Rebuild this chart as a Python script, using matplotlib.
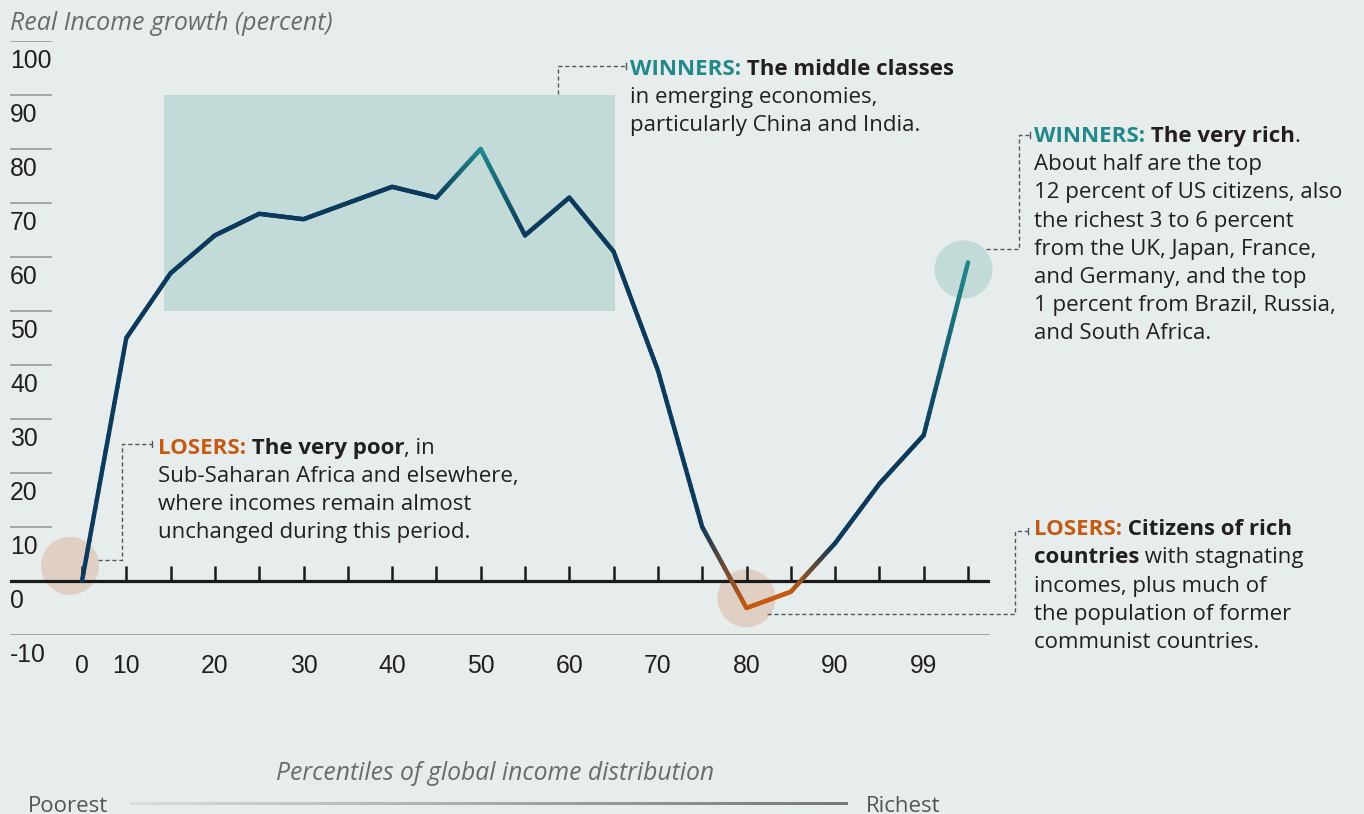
import matplotlib.pyplot as plt
import numpy as np
from matplotlib.collections import LineCollection
from matplotlib.colors import to_rgb, LinearSegmentedColormap
from matplotlib.lines import Line2D

# Data: real income growth by ventile of global income distribution
points = list(range(21))
growth = [0, 45, 57, 64, 68, 67, 70, 73, 71, 80, 64, 71, 61, 39, 10, -5, -2, 7, 18, 27, 59]
tone = ['navy', 'navy', 'navy', 'navy', 'navy', 'navy', 'navy', 'navy', 'navy', 'teal', 'navy',
        'navy', 'navy', 'navy', 'navy', 'orange', 'orange', 'navy', 'navy', 'navy', 'teal']
x_label_pos = [0, 1, 3, 5, 7, 9, 11, 13, 15, 17, 19]
x_labels = ['0', '10', '20', '30', '40', '50', '60', '70', '80', '90', '99']
y_ticks = [100, 90, 80, 70, 60, 50, 40, 30, 20, 10, 0, -10]

# highlighted groups
band_x = [1.85, 12.03]
band_y = [50, 90]
circle_x = [-0.27, 15, 19.9]
circle_y = [2.8, -3.2, 57.7]
circle_tone = ['orange', 'orange', 'teal']

BG = '#e7eded'
NAVY = '#0b3a5c'
TEAL = '#22888a'
ORANGE = '#c65a13'
DARK = '#231f20'
colors = {'navy': NAVY, 'teal': TEAL, 'orange': ORANGE}
soft = {'orange': '#dfd0c3', 'teal': '#c2dbd8'}

W, H = 1364, 814
fig = plt.figure(figsize=(W / 100, H / 100), dpi=100, facecolor=BG)
ax = fig.add_axes([10 / W, (H - 635) / H, 980 / W, 594 / H])
ax.set_facecolor(BG)
ax.set_xlim(-72 / 44.3, 908 / 44.3)
ax.set_ylim(-10, 100)
for s in ax.spines.values():
    s.set_visible(False)
ax.set_yticks([])

TXT = ['Open Sans', 'DejaVu Sans']
NUM = ['Liberation Sans', 'DejaVu Sans']
FS = 16

# shaded middle-class band
ax.fill_between(band_x, band_y[0], band_y[1], color='#c2dbd8', lw=0, zorder=1)

# circles
ax.scatter(circle_x, circle_y, s=1750, c=[soft[t] for t in circle_tone], lw=0,
           zorder=2, clip_on=False)

# grid stubs and labels
for v in y_ticks:
    if v == 0:
        ax.axhline(0, color='#1a1a1a', lw=2.3, zorder=3)
    elif v == -10:
        ax.axhline(-10, color='#9a9a9a', lw=1.2, zorder=3)
    else:
        ax.plot([-1.625, -0.7], [v, v], color='#9a9a9a', lw=1.2, zorder=3)
    ax.annotate(str(v), xy=(-1.625, v), xytext=(0, -6), textcoords='offset points',
                ha='left', va='top', fontsize=17.8, color=DARK, family=NUM)

# x tick marks
ax.vlines(points, 0, 2.8, color='#1a1a1a', lw=1.8, zorder=3)
ax.set_xticks(x_label_pos, x_labels)
ax.tick_params(axis='x', length=0, pad=14, labelsize=17.8, labelcolor=DARK)
for lab in ax.get_xticklabels():
    lab.set_family(NUM)

# gradient coloured curve
segs, cols = [], []
for i in range(len(points) - 1):
    c0 = np.array(to_rgb(colors[tone[i]]))
    c1 = np.array(to_rgb(colors[tone[i + 1]]))
    n = 30
    for k in range(n):
        t0, t1 = k / n, (k + 1) / n
        p0 = (points[i] + t0 * (points[i + 1] - points[i]), growth[i] + t0 * (growth[i + 1] - growth[i]))
        p1 = (points[i] + t1 * (points[i + 1] - points[i]), growth[i] + t1 * (growth[i + 1] - growth[i]))
        segs.append([p0, p1])
        cols.append(c0 + (c1 - c0) * (t0 + t1) / 2)
lc = LineCollection(segs, colors=cols, lw=3.2, capstyle='round', zorder=4)
ax.add_collection(lc)


def fx(px):
    return px / W


def fy(py):
    return 1 - py / H


def leader(pts):
    xs = [fx(p[0]) for p in pts]
    ys = [fy(p[1]) for p in pts]
    fig.add_artist(Line2D(xs, ys, transform=fig.transFigure, color='#555555',
                          lw=1, linestyle=(0, (3, 2))))
    ex, ey = pts[-1]
    fig.add_artist(Line2D([fx(ex), fx(ex)], [fy(ey - 3), fy(ey + 3)],
                          transform=fig.transFigure, color='#555555', lw=1))


def block(x, y0, step, lines):
    # each line is a list of (text, colour, weight) pieces chained left to right
    for j, parts in enumerate(lines):
        t = None
        for txt, col, wt in parts:
            if t is None:
                t = fig.text(fx(x), fy(y0 + j * step), txt, color=col, weight=wt,
                             fontsize=FS, family=TXT, ha='left', va='baseline')
            else:
                t = ax.annotate(txt, xy=(1, 0), xycoords=t, color=col, weight=wt,
                                fontsize=FS, family=TXT, ha='left', va='bottom',
                                annotation_clip=False)


N = 'normal'
B = 'bold'
block(158, 454, 28, [
    [('LOSERS:', ORANGE, B), (' The very poor', DARK, B), (', in', DARK, N)],
    [('Sub-Saharan Africa and elsewhere,', DARK, N)],
    [('where incomes remain almost', DARK, N)],
    [('unchanged during this period.', DARK, N)],
])
block(630, 75, 28, [
    [('WINNERS:', TEAL, B), (' The middle classes', DARK, B)],
    [('in emerging economies,', DARK, N)],
    [('particularly China and India.', DARK, N)],
])
block(1034, 142, 28.2, [
    [('WINNERS:', TEAL, B), (' The very rich', DARK, B), ('.', DARK, N)],
    [('About half are the top', DARK, N)],
    [('12 percent of US citizens, also', DARK, N)],
    [('the richest 3 to 6 percent', DARK, N)],
    [('from the UK, Japan, France,', DARK, N)],
    [('and Germany, and the top', DARK, N)],
    [('1 percent from Brazil, Russia,', DARK, N)],
    [('and South Africa.', DARK, N)],
])
block(1034, 535, 28.3, [
    [('LOSERS:', ORANGE, B), (' Citizens of rich', DARK, B)],
    [('countries', DARK, B), (' with stagnating', DARK, N)],
    [('incomes, plus much of', DARK, N)],
    [('the population of former', DARK, N)],
    [('communist countries.', DARK, N)],
])

leader([(98, 560), (122, 560), (122, 444), (152, 444)])
leader([(558, 94), (558, 66), (626, 66)])
leader([(986, 249), (1019, 249), (1019, 135), (1030, 135)])
leader([(767, 614), (1015, 614), (1015, 531), (1028, 531)])

# titles
fig.text(fx(10), fy(24), 'Real Income growth (percent)', style='italic', color='#6b6b6b',
         fontsize=18, family=TXT, ha='left', va='center')
fig.text(fx(495), fy(774), 'Percentiles of global income distribution', style='italic',
         color='#6b6b6b', fontsize=17.8, family=TXT, ha='center', va='center')
fig.text(fx(28), fy(806), 'Poorest', color='#555555', fontsize=16, family=TXT,
         ha='left', va='center')
fig.text(fx(866), fy(806), 'Richest', color='#555555', fontsize=16, family=TXT,
         ha='left', va='center')

# poorest -> richest gradient bar
gax = fig.add_axes([fx(130), fy(805), (848 - 130) / W, 3 / H])
gax.axis('off')
cmap = LinearSegmentedColormap.from_list('pr', ['#d8dddd', '#777777'])
gax.imshow(np.linspace(0, 1, 256)[None, :], aspect='auto', cmap=cmap)

fig.savefig('out.png', dpi=100, facecolor=BG)
